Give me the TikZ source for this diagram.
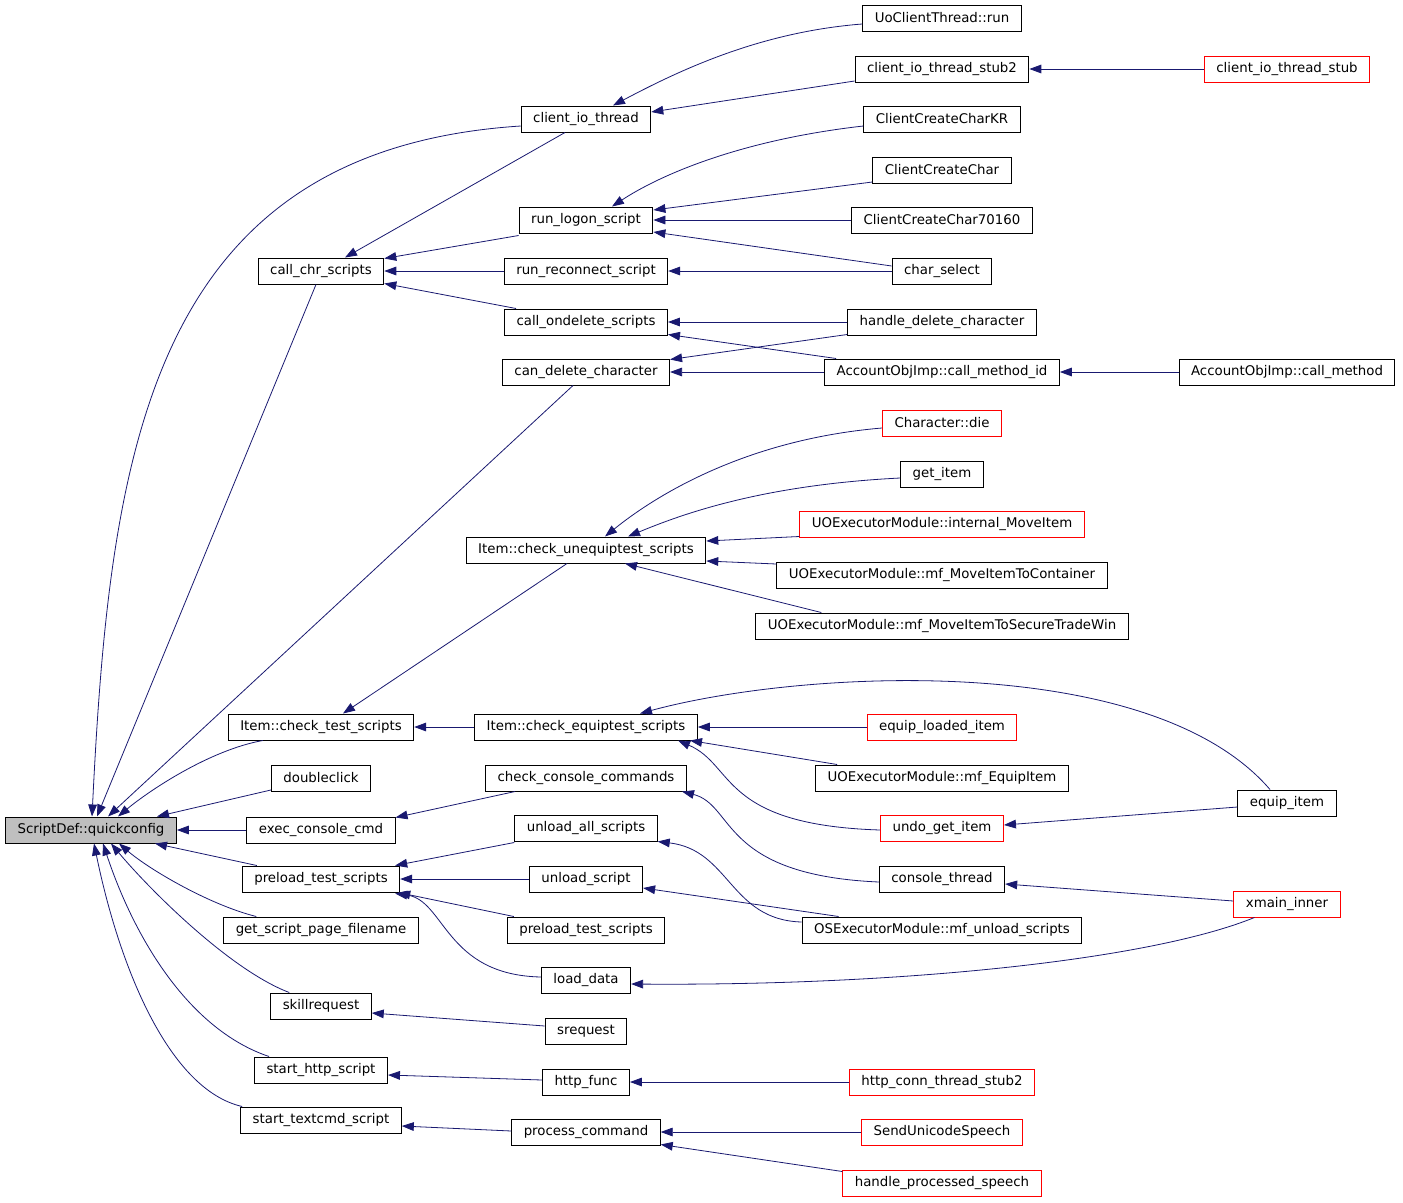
\documentclass[tikz,border=0pt]{standalone}
\usepackage{fontspec}
\setmainfont{DejaVu Sans}
\usetikzlibrary{arrows.meta,calc}
\definecolor{edgeblue}{RGB}{25,25,112}
\definecolor{rootgray}{RGB}{191,191,191}

\begin{document}
\begin{tikzpicture}[x=0.75pt,y=-0.75pt,
    fn/.style={draw, line width=0.75pt, font=\fontsize{10}{12}\selectfont,
      inner xsep=9pt, inner ysep=0pt, minimum height=19.5pt},
    ext/.style={fn, draw=red},
    root/.style={fn, fill=rootgray},
    call/.style={draw=edgeblue, line width=0.6pt, {Triangle[length=9pt,width=6.5pt]}-}]
  \useasboundingbox (0,0) rectangle (1403,1203);

  \node[root] (qc) at (91,830) {ScriptDef::quickconfig};

  \foreach \n/\y/\t in {callchr/271/call\_chr\_scripts, chktest/727/Item::check\_test\_scripts,
      dblclick/778/doubleclick, execcmd/830/exec\_console\_cmd,
      preload/879/preload\_test\_scripts, getpage/930/get\_script\_page\_filename,
      skillreq/1006/skillrequest, starthttp/1070/start\_http\_script,
      starttext/1120/start\_textcmd\_script}
    \node[fn] (\n) at (321,\y) {\t};

  \foreach \n/\y/\t in {clientio/119/client\_io\_thread, runlogon/220/run\_logon\_script,
      runreconn/271/run\_reconnect\_script, callondel/322/call\_ondelete\_scripts,
      candel/372/can\_delete\_character, unequip/550/Item::check\_unequiptest\_scripts,
      equip/727/Item::check\_equiptest\_scripts, chkconsole/778/check\_console\_commands,
      unloadall/828/unload\_all\_scripts, unloadscr/879/unload\_script,
      preload2/930/preload\_test\_scripts, loaddata/980/load\_data,
      sreq/1031/srequest, httpfunc/1082/http\_func, proccmd/1132/process\_command}
    \node[fn] (\n) at (586,\y) {\t};

  \node[fn] (uoclient) at (942,18) {UoClientThread::run};
  \node[fn] (stub2) at (942,69) {client\_io\_thread\_stub2};
  \node[fn] (createkr) at (942,119) {ClientCreateCharKR};
  \node[fn] (createchar) at (942,170) {ClientCreateChar};
  \node[fn] (create70160) at (942,220) {ClientCreateChar70160};
  \node[fn] (charsel) at (942,271) {char\_select};
  \node[fn] (handledel) at (942,322) {handle\_delete\_character};
  \node[fn] (callmid) at (942,372) {AccountObjImp::call\_method\_id};
  \node[ext] (chardie) at (942,423) {Character::die};
  \node[fn] (getitem) at (942,474) {get\_item};
  \node[ext] (intmove) at (942,524) {UOExecutorModule::internal\_MoveItem};
  \node[fn] (mvcont) at (942,575) {UOExecutorModule::mf\_MoveItemToContainer};
  \node[fn] (mvsecure) at (942,626) {UOExecutorModule::mf\_MoveItemToSecureTradeWin};
  \node[ext] (equiploaded) at (942,727) {equip\_loaded\_item};
  \node[fn] (mfequip) at (942,778) {UOExecutorModule::mf\_EquipItem};
  \node[ext] (undoget) at (942,828) {undo\_get\_item};
  \node[fn] (consthread) at (942,879) {console\_thread};
  \node[fn] (osunload) at (942,930) {OSExecutorModule::mf\_unload\_scripts};
  \node[ext] (httpstub) at (942,1082) {http\_conn\_thread\_stub2};
  \node[ext] (sendspeech) at (942,1132) {SendUnicodeSpeech};
  \node[ext] (handlespeech) at (942,1183) {handle\_processed\_speech};

  \node[ext] (stub) at (1287,69) {client\_io\_thread\_stub};
  \node[fn] (callmethod) at (1287,372) {AccountObjImp::call\_method};
  \node[fn] (equipitem) at (1287,803) {equip\_item};
  \node[ext] (xmain) at (1287,904) {xmain\_inner};

  % callers of quickconfig
  \draw[call] ($(qc.north)+(1,0)$) .. controls (110,450) and (150,150) .. ($(clientio.west)+(0,7)$);
  \draw[call] ($(qc.north)+(6,0)$) -- ($(callchr.south)+(-5,0)$);
  \draw[call] ($(qc.north)+(17,0)$) -- ($(candel.south)+(-13,0)$);
  \draw[call] ($(qc.north)+(27,0)$) .. controls (150,790) and (210,750) .. ($(chktest.south west)+(35,0)$);
  \draw[call] ($(qc.north)+(66,0)$) -- ($(dblclick.west)+(0,12)$);
  \draw[call] (qc.east) -- (execcmd.west);
  \draw[call] ($(qc.south)+(64,0)$) -- ($(preload.north west)+(15,0)$);
  \draw[call] ($(qc.south)+(28,0)$) .. controls (150,870) and (210,905) .. ($(getpage.north west)+(33,0)$);
  \draw[call] ($(qc.south)+(20,0)$) .. controls (150,890) and (230,970) .. ($(skillreq.north west)+(19,0)$);
  \draw[call] ($(qc.south)+(12,0)$) .. controls (135,940) and (190,1030) .. ($(starthttp.north west)+(15,0)$);
  \draw[call] ($(qc.south)+(3,0)$) .. controls (120,970) and (170,1090) .. ($(starttext.north west)+(2,0)$);

  % upper part
  \draw[call] ($(callchr.north)+(24,0)$) -- ($(clientio.south)+(-21,0)$);
  \draw[call] ($(callchr.north east)+(0,1)$) -- ($(runlogon.south west)+(0,2)$);
  \draw[call] (callchr.east) -- (runreconn.west);
  \draw[call] ($(callchr.south east)+(0,-1)$) -- ($(callondel.north west)+(12,0)$);
  \draw[call] ($(clientio.north)+(27,0)$) .. controls (680,70) and (760,32) .. ($(uoclient.west)+(0,6)$);
  \draw[call] ($(clientio.east)+(0,-7)$) -- ($(stub2.west)+(0,12)$);
  \draw[call] (stub2.east) -- (stub.west);
  \draw[call] ($(runlogon.north)+(26,0)$) .. controls (660,175) and (740,140) .. ($(createkr.west)+(0,7)$);
  \draw[call] ($(runlogon.east)+(0,-10)$) -- ($(createchar.west)+(0,12)$);
  \draw[call] (runlogon.east) -- (create70160.west);
  \draw[call] ($(runlogon.east)+(0,12)$) -- ($(charsel.west)+(0,-5)$);
  \draw[call] (runreconn.east) -- (charsel.west);
  \draw[call] (callondel.east) -- (handledel.west);
  \draw[call] ($(callondel.south east)+(0,-1)$) -- ($(callmid.north west)+(12,0)$);
  \draw[call] ($(candel.north east)+(0,1)$) -- ($(handledel.south west)+(0,-1)$);
  \draw[call] (candel.east) -- (callmid.west);
  \draw[call] (callmid.east) -- (callmethod.west);

  % item scripts
  \draw[call] ($(unequip.north)+(19,0)$) .. controls (650,500) and (740,440) .. ($(chardie.west)+(0,5)$);
  \draw[call] ($(unequip.north)+(42,0)$) .. controls (680,515) and (760,485) .. ($(getitem.west)+(0,4)$);
  \draw[call] ($(unequip.east)+(0,-9)$) -- ($(intmove.south west)+(0,-1)$);
  \draw[call] ($(unequip.east)+(0,11)$) -- ($(mvcont.west)+(0,-11)$);
  \draw[call] ($(unequip.south)+(39,0)$) -- ($(mvsecure.north west)+(66,0)$);
  \draw[call] ($(chktest.north)+(22,0)$) -- ($(unequip.south)+(-19,0)$);
  \draw[call] (chktest.east) -- (equip.west);
  \draw[call] ($(equip.north)+(54,0)$) .. controls (800,670) and (1150,650) .. ($(equipitem.north)+(-17,0)$);
  \draw[call] (equip.east) -- (equiploaded.west);
  \draw[call] ($(equip.south)+(104,0)$) -- ($(mfequip.north west)+(22,0)$);
  \draw[call] ($(equip.south)+(92,0)$) .. controls (735,765) and (720,825) .. ($(undoget.west)+(0,2)$);
  \draw[call] ($(undoget.east)+(0,-3)$) -- ($(equipitem.west)+(0,4)$);

  % console and scripts
  \draw[call] ($(execcmd.north east)+(0,1)$) -- ($(chkconsole.south west)+(30,0)$);
  \draw[call] ($(chkconsole.south)+(96,0)$) .. controls (735,805) and (720,875) .. ($(consthread.west)+(0,3)$);
  \draw[call] ($(consthread.east)+(0,5)$) -- ($(xmain.west)+(0,-3)$);
  \draw[call] ($(preload.north east)+(-5,0)$) -- ($(unloadall.south west)+(0,1)$);
  \draw[call] (preload.east) -- (unloadscr.west);
  \draw[call] ($(preload.south east)+(-2,0)$) -- ($(preload2.north west)+(7,0)$);
  \draw[call] ($(preload.south east)+(-5,1)$) .. controls (445,900) and (445,975) .. ($(loaddata.west)+(0,-3)$);
  \draw[call] (unloadall.south east) .. controls (730,850) and (730,920) .. ($(osunload.west)+(0,-8)$);
  \draw[call] ($(unloadscr.east)+(0,9)$) -- ($(osunload.north west)+(37,0)$);
  \draw[call] ($(loaddata.east)+(0,4)$) .. controls (900,986) and (1150,960) .. ($(xmain.south west)+(21,0)$);

  % lower part
  \draw[call] ($(skillreq.east)+(0,7)$) -- ($(sreq.west)+(0,-5)$);
  \draw[call] ($(starthttp.east)+(0,5)$) -- ($(httpfunc.west)+(0,-2)$);
  \draw[call] (httpfunc.east) -- (httpstub.west);
  \draw[call] ($(starttext.east)+(0,6)$) -- ($(proccmd.west)+(0,-1)$);
  \draw[call] (proccmd.east) -- (sendspeech.west);
  \draw[call] ($(proccmd.south east)+(0,-1)$) -- ($(handlespeech.north west)+(0,2)$);
\end{tikzpicture}
\end{document}
